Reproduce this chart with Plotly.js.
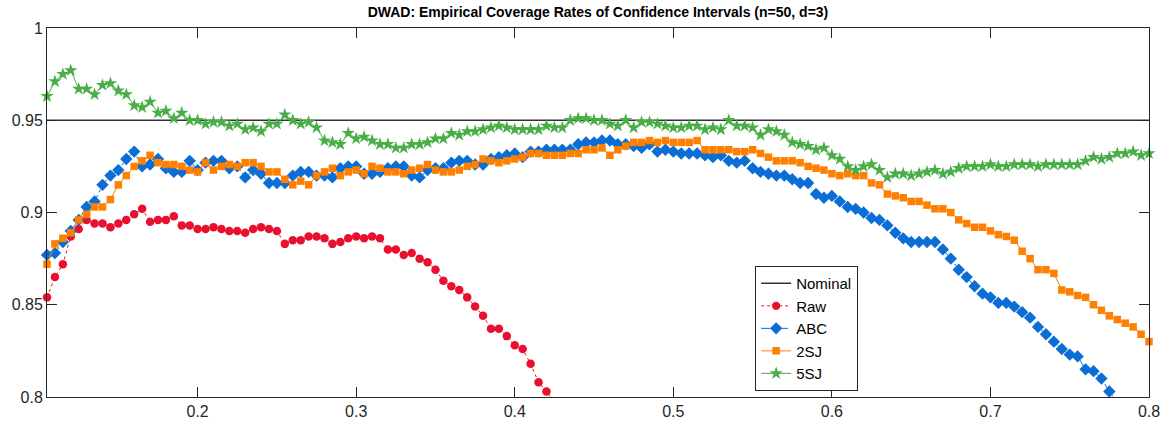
<!DOCTYPE html>
<html>
<head>
<meta charset="utf-8">
<script src="https://cdn.plot.ly/plotly-3.0.1.min.js"></script>
<style>
  html, body { margin: 0; padding: 0; background: #fff; }
  #chart { width: 1167px; height: 428px; }
</style>
</head>
<body>
<div id="chart"></div>
<script>
// x grid: 0.105 .. 0.800 in steps of 0.005
const X_START = 0.105;
const X_STEP = 0.005;

const seriesNames = ['Nominal', 'Raw', 'ABC', '2SJ', '5SJ'];
const nominalLevel = 0.95;

const rawValues = [
  0.854, 0.865, 0.872, 0.887, 0.891, 0.896, 0.894, 0.894, 0.892, 0.894,
  0.896, 0.899, 0.902, 0.895, 0.896, 0.896, 0.898, 0.893, 0.893, 0.891,
  0.891, 0.892, 0.891, 0.890, 0.890, 0.889, 0.891, 0.892, 0.891, 0.890,
  0.883, 0.885, 0.885, 0.887, 0.887, 0.886, 0.883, 0.884, 0.886, 0.887,
  0.886, 0.887, 0.886, 0.880, 0.880, 0.877, 0.878, 0.875, 0.873, 0.869,
  0.863, 0.860, 0.858, 0.854, 0.849, 0.844, 0.837, 0.837, 0.833, 0.828,
  0.826, 0.818, 0.808, 0.803, 0.797
];

const abcValues = [
  0.877, 0.878, 0.884, 0.890, 0.896, 0.903, 0.906, 0.915, 0.920, 0.923,
  0.929, 0.933, 0.925, 0.926, 0.929, 0.924, 0.922, 0.922, 0.928, 0.923,
  0.927, 0.928, 0.928, 0.924, 0.925, 0.919, 0.923, 0.921, 0.916, 0.916,
  0.916, 0.920, 0.922, 0.922, 0.920, 0.920, 0.919, 0.924, 0.925, 0.925,
  0.921, 0.921, 0.922, 0.924, 0.925, 0.925, 0.920, 0.919, 0.923, 0.924,
  0.924, 0.927, 0.928, 0.928, 0.926, 0.926, 0.929, 0.930, 0.931, 0.932,
  0.930, 0.933, 0.933, 0.934, 0.934, 0.934, 0.934, 0.937, 0.938, 0.938,
  0.939, 0.939, 0.937, 0.937, 0.936, 0.935, 0.937, 0.933, 0.934, 0.933,
  0.932, 0.932, 0.932, 0.931, 0.930, 0.931, 0.928, 0.927, 0.928, 0.924,
  0.922, 0.921, 0.920, 0.920, 0.918, 0.916, 0.916, 0.910, 0.908, 0.909,
  0.906, 0.903, 0.902, 0.900, 0.897, 0.896, 0.893, 0.889, 0.886, 0.884,
  0.884, 0.884, 0.884, 0.880, 0.875, 0.869, 0.865, 0.860, 0.856, 0.854,
  0.851, 0.851, 0.849, 0.846, 0.843, 0.838, 0.834, 0.830, 0.826, 0.823,
  0.822, 0.815, 0.814, 0.810, 0.803, 0.797
];

const sj2Values = [
  0.872, 0.883, 0.886, 0.889, 0.896, 0.899, 0.903, 0.903, 0.907, 0.915,
  0.920, 0.925, 0.928, 0.931, 0.927, 0.926, 0.926, 0.925, 0.923, 0.922,
  0.927, 0.923, 0.925, 0.926, 0.925, 0.927, 0.927, 0.925, 0.922, 0.922,
  0.918, 0.915, 0.917, 0.915, 0.920, 0.922, 0.924, 0.920, 0.922, 0.923,
  0.921, 0.925, 0.924, 0.922, 0.922, 0.921, 0.923, 0.924, 0.926, 0.923,
  0.922, 0.922, 0.923, 0.925, 0.926, 0.929, 0.928, 0.927, 0.928, 0.929,
  0.930, 0.932, 0.932, 0.931, 0.931, 0.931, 0.932, 0.932, 0.934, 0.934,
  0.935, 0.931, 0.934, 0.936, 0.938, 0.938, 0.939, 0.938, 0.939, 0.938,
  0.938, 0.938, 0.939, 0.934, 0.934, 0.934, 0.934, 0.933, 0.933, 0.934,
  0.932, 0.930, 0.928, 0.928, 0.928, 0.927, 0.925, 0.924, 0.923, 0.921,
  0.920, 0.921, 0.920, 0.920, 0.916, 0.915, 0.910, 0.909, 0.908, 0.906,
  0.906, 0.904, 0.902, 0.902, 0.900, 0.896, 0.894, 0.892, 0.892, 0.890,
  0.888, 0.887, 0.885, 0.879, 0.875, 0.869, 0.869, 0.867, 0.858, 0.857,
  0.855, 0.854, 0.850, 0.847, 0.844, 0.842, 0.840, 0.838, 0.834, 0.830
];

const sj5Values = [
  0.963, 0.971, 0.975, 0.977, 0.967, 0.967, 0.964, 0.969, 0.970, 0.966,
  0.964, 0.958, 0.957, 0.960, 0.954, 0.955, 0.951, 0.954, 0.950, 0.950,
  0.948, 0.949, 0.949, 0.947, 0.948, 0.945, 0.946, 0.944, 0.948, 0.948,
  0.953, 0.950, 0.948, 0.949, 0.946, 0.939, 0.938, 0.937, 0.943, 0.940,
  0.941, 0.939, 0.937, 0.937, 0.935, 0.935, 0.937, 0.937, 0.938, 0.940,
  0.940, 0.943, 0.942, 0.944, 0.944, 0.945, 0.946, 0.947, 0.946, 0.945,
  0.945, 0.945, 0.945, 0.947, 0.946, 0.946, 0.950, 0.951, 0.951, 0.950,
  0.950, 0.948, 0.947, 0.950, 0.946, 0.949, 0.949, 0.948, 0.947, 0.946,
  0.946, 0.947, 0.947, 0.945, 0.946, 0.945, 0.950, 0.947, 0.947, 0.946,
  0.942, 0.945, 0.944, 0.942, 0.938, 0.937, 0.936, 0.934, 0.935, 0.931,
  0.929, 0.925, 0.923, 0.925, 0.926, 0.923, 0.919, 0.921, 0.921, 0.920,
  0.921, 0.922, 0.923, 0.921, 0.922, 0.924, 0.925, 0.925, 0.925, 0.926,
  0.925, 0.925, 0.926, 0.926, 0.926, 0.925, 0.926, 0.926, 0.926, 0.926,
  0.926, 0.928, 0.930, 0.929, 0.930, 0.932, 0.932, 0.933, 0.931, 0.932
];

const xTickVals = [0.2, 0.3, 0.4, 0.5, 0.6, 0.7, 0.8];
const xTickText = ['0.2', '0.3', '0.4', '0.5', '0.6', '0.7', '0.8'];
const yTickVals = [0.8, 0.85, 0.9, 0.95, 1];
const yTickText = ['0.8', '0.85', '0.9', '0.95', '1'];

const Y_MIN = 0.8, Y_MAX = 1.0, X_MIN = 0.105, X_MAX = 0.8;

function xsFor(n) {
  const out = [];
  for (let i = 0; i < n; i++) out.push(Math.round((X_START + X_STEP * i) * 1000) / 1000);
  return out;
}
// hide markers that fall outside the visible y-range (line still runs to the edge)
function sizesFor(vals, s) {
  return vals.map(v => (v < Y_MIN ? 0 : s));
}

const C_RAW = '#E8102E';
const C_ABC = '#0A6ED6';
const C_2SJ = '#FF8000';
const C_5SJ = '#4AAE48';

function mk(symbol, color, sizes) {
  return { symbol: symbol, color: color, size: sizes, opacity: 1, line: { width: 0 } };
}

const traces = [
  {
    name: seriesNames[0], type: 'scatter', mode: 'lines',
    x: [X_MIN, X_MAX], y: [nominalLevel, nominalLevel],
    line: { color: '#333333', width: 1.5 }
  },
  {
    name: seriesNames[1], type: 'scatter', mode: 'lines+markers',
    x: xsFor(rawValues.length), y: rawValues, cliponaxis: false,
    line: { color: C_RAW, width: 1, dash: 'dot' },
    marker: mk('circle', C_RAW, sizesFor(rawValues, 8.5))
  },
  {
    name: seriesNames[2], type: 'scatter', mode: 'lines+markers',
    x: xsFor(abcValues.length), y: abcValues, cliponaxis: false,
    line: { color: C_ABC, width: 1, dash: 'dashdot' },
    marker: mk('diamond', C_ABC, sizesFor(abcValues, 9.5))
  },
  {
    name: seriesNames[3], type: 'scatter', mode: 'lines+markers',
    x: xsFor(sj2Values.length), y: sj2Values, cliponaxis: false,
    line: { color: C_2SJ, width: 1 },
    marker: mk('square', C_2SJ, sizesFor(sj2Values, 7.5))
  },
  {
    name: seriesNames[4], type: 'scatter', mode: 'lines+markers',
    x: xsFor(sj5Values.length), y: sj5Values, cliponaxis: false,
    line: { color: C_5SJ, width: 1 },
    marker: mk('star', C_5SJ, sizesFor(sj5Values, 10))
  }
];

const FONT = 'Liberation Sans, Arial, sans-serif';

const layout = {
  width: 1167, height: 428,
  paper_bgcolor: '#ffffff', plot_bgcolor: '#ffffff',
  margin: { l: 47, r: 18, t: 28, b: 31, pad: 0 },
  font: { family: FONT, size: 16, color: '#262626' },
  title: {
    text: '<b>DWAD: Empirical Coverage Rates of Confidence Intervals (n=50, d=3)</b>',
    font: { family: FONT, size: 14, color: '#000000' },
    x: 0.5, xref: 'paper', xanchor: 'center',
    y: 0.972, yref: 'container', yanchor: 'middle'
  },
  xaxis: {
    range: [X_MIN, X_MAX], autorange: false,
    tickvals: xTickVals, ticktext: xTickText,
    ticks: 'inside', ticklen: 10, tickwidth: 1, tickcolor: '#262626',
    showline: true, linecolor: '#262626', linewidth: 1, mirror: 'ticks',
    showgrid: false, zeroline: false,
    tickfont: { family: FONT, size: 16, color: '#262626' }
  },
  yaxis: {
    range: [Y_MIN, Y_MAX], autorange: false,
    tickvals: yTickVals, ticktext: yTickText,
    ticks: 'inside', ticklen: 10, tickwidth: 1, tickcolor: '#262626',
    showline: true, linecolor: '#262626', linewidth: 1, mirror: 'ticks',
    showgrid: false, zeroline: false,
    tickfont: { family: FONT, size: 16, color: '#262626' }
  },
  showlegend: true,
  legend: {
    x: 0.6426, y: 0.016, xanchor: 'left', yanchor: 'bottom',
    xref: 'paper', yref: 'paper',
    bgcolor: '#ffffff', bordercolor: '#262626', borderwidth: 1,
    font: { family: FONT, size: 15, color: '#000000' },
    itemwidth: 30, tracegroupgap: 0
  }
};

Plotly.newPlot('chart', traces, layout, { displayModeBar: false, staticPlot: true });
</script>
</body>
</html>
